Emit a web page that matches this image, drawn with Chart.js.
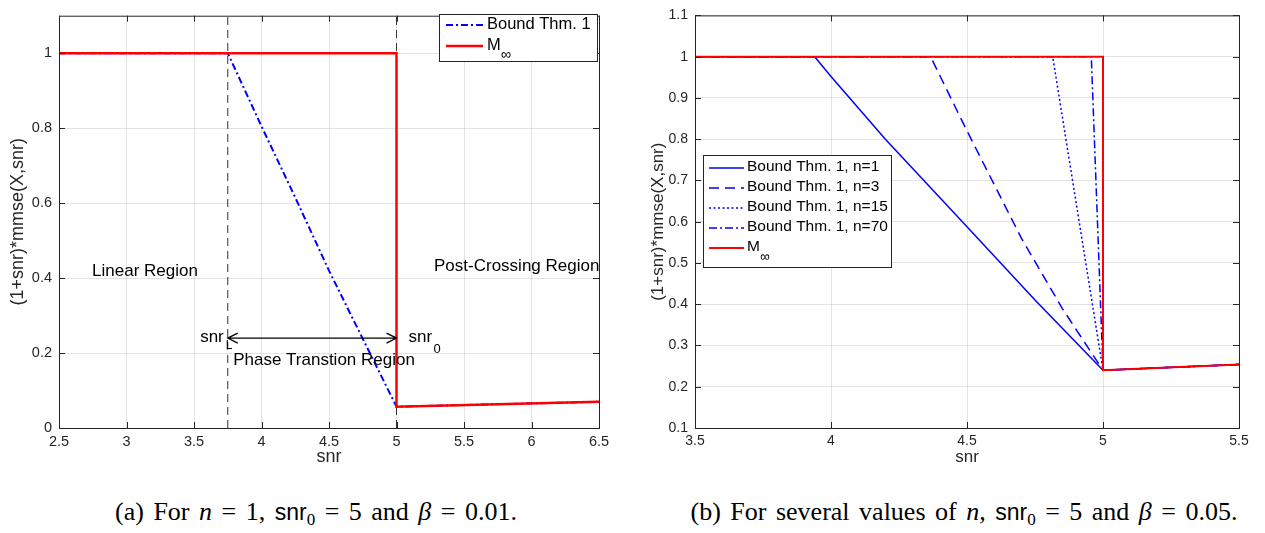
<!DOCTYPE html>
<html>
<head>
<meta charset="utf-8">
<script src="https://cdn.jsdelivr.net/npm/chart.js@4.4.1/dist/chart.umd.min.js"></script>
<style>
  html, body { margin: 0; padding: 0; background: #fff; }
  body { width: 1265px; height: 533px; position: relative; overflow: hidden; }
  .wrap { position: absolute; top: 0; height: 470px; }
  .cap { position: absolute; top: 494px; height: 36px; line-height: 36px; text-align: center;
         font-family: "Liberation Serif", "Times New Roman", serif; font-size: 26px; word-spacing: 3px;
         color: #000; white-space: nowrap; }
  .cap i { font-style: italic; }
  .cap .sf { font-family: "Liberation Sans", Arial, sans-serif; font-size: 23px; }
  .cap sub { font-size: 17px; vertical-align: -5px; line-height: 0; }
</style>
</head>
<body>
<div class="wrap" style="left:0;width:620px"><canvas id="chartA"></canvas></div>
<div class="wrap" style="left:640px;width:625px"><canvas id="chartB"></canvas></div>
<div class="cap" style="left:0;width:632px">(a) For <i>n</i> = 1, <span class="sf">snr</span><sub>0</sub> = 5 and <i>β</i> = 0.01.</div>
<div class="cap" style="left:664px;width:600px">(b) For several values of <i>n</i>, <span class="sf">snr</span><sub>0</sub> = 5 and <i>β</i> = 0.05.</div>
<script>
// ---- panel (a): n = 1, snr0 = 5, beta = 0.01
const xTicksA = [2.5, 3, 3.5, 4, 4.5, 5, 5.5, 6, 6.5];
const yTicksA = [0, 0.2, 0.4, 0.6, 0.8, 1];
const snrA_bound = [2.5, 3.75, 4.0, 4.25, 4.5, 4.75, 5.0, 6.5];
const valA_bound = [1, 1, 0.805, 0.615, 0.42, 0.238, 0.057, 0.070];
const snrA_minf = [2.5, 5, 5, 6.5];
const valA_minf = [1, 1, 0.057, 0.070];
const snrL = 3.75, snr0 = 5;
const arrowLevel = 0.24;

// ---- panel (b): several n, snr0 = 5, beta = 0.05
const xTicksB = [3.5, 4, 4.5, 5, 5.5];
const yTicksB = [0.1, 0.2, 0.3, 0.4, 0.5, 0.6, 0.7, 0.8, 0.9, 1, 1.1];
const snrB_n1 = [3.5, 3.94, 4.0, 4.2, 4.5, 4.75, 5.0, 5.5];
const valB_n1 = [1, 1, 0.952, 0.80, 0.588, 0.41, 0.24, 0.254];
const snrB_n3 = [3.5, 4.366, 4.5, 4.7, 4.85, 5.0, 5.5];
const valB_n3 = [1, 1, 0.82, 0.56, 0.39, 0.24, 0.254];
const snrB_n15 = [3.5, 4.815, 5.0, 5.5];
const valB_n15 = [1, 1, 0.24, 0.254];
const snrB_n70 = [3.5, 4.957, 5.0, 5.5];
const valB_n70 = [1, 1, 0.24, 0.254];
const snrB_minf = [3.5, 5, 5, 5.5];
const valB_minf = [1, 1, 0.24, 0.254];

const FONT = "'Liberation Sans', Arial, Helvetica, sans-serif";
const AX = '#262626';
const BLUE = '#0000ff', RED = '#ff0000';

const pts = (xs, ys) => xs.map((x, i) => ({x: x, y: ys[i]}));
const fmt = v => String(+v.toFixed(2));

function line(label, xs, ys, color, width, dash, order, sub) {
  return {label: label, labelSub: sub || '', data: pts(xs, ys), borderColor: color, borderWidth: width,
          borderDash: dash || [], pointRadius: 0, fill: false, tension: 0, order: order, borderCapStyle: 'butt'};
}

// box + inward ticks on four sides, matlab style
const frameTicks = {
  id: 'frameTicks',
  afterDatasetsDraw(chart) {
    const {ctx, chartArea: a, scales: {x, y}} = chart;
    const tl = 6;
    ctx.save();
    ctx.strokeStyle = AX;
    ctx.lineWidth = 1;
    ctx.beginPath();
    x.ticks.forEach(t => {
      const px = Math.round(x.getPixelForValue(t.value)) + 0.5;
      ctx.moveTo(px, a.bottom); ctx.lineTo(px, a.bottom - tl);
      ctx.moveTo(px, a.top); ctx.lineTo(px, a.top + tl);
    });
    y.ticks.forEach(t => {
      const py = Math.round(y.getPixelForValue(t.value)) + 0.5;
      ctx.moveTo(a.left, py); ctx.lineTo(a.left + tl, py);
      ctx.moveTo(a.right, py); ctx.lineTo(a.right - tl, py);
    });
    ctx.stroke();
    ctx.strokeRect(a.left + 0.5, a.top + 0.5, a.width, a.height);
    ctx.restore();
  }
};

// legend box inside the axes
const boxLegend = {
  id: 'boxLegend',
  afterDraw(chart, args, opts) {
    const ctx = chart.ctx;
    const items = chart.data.datasets.filter(d => d.label);
    ctx.save();
    ctx.fillStyle = '#fff';
    ctx.fillRect(opts.left, opts.top, opts.width, opts.height);
    ctx.strokeStyle = AX;
    ctx.lineWidth = 1;
    ctx.strokeRect(opts.left + 0.5, opts.top + 0.5, opts.width, opts.height);
    items.forEach((d, i) => {
      const yy = opts.firstRow + i * opts.rowGap;
      ctx.beginPath();
      ctx.strokeStyle = d.borderColor;
      ctx.lineWidth = d.borderWidth;
      ctx.setLineDash(d.borderDash);
      ctx.moveTo(opts.left + opts.lineFrom, yy);
      ctx.lineTo(opts.left + opts.lineTo, yy);
      ctx.stroke();
      ctx.setLineDash([]);
      ctx.fillStyle = '#000';
      ctx.font = opts.fontSize + 'px ' + FONT;
      ctx.textBaseline = 'middle';
      ctx.textAlign = 'left';
      const tx = opts.left + opts.textAt;
      ctx.fillText(d.label, tx, yy - 1);
      if (d.labelSub) {
        const w = ctx.measureText(d.label).width;
        ctx.font = (opts.fontSize - 2) + 'px ' + FONT;
        ctx.fillText(d.labelSub, tx + w, yy + 9);
      }
    });
    ctx.restore();
  }
};

// region labels, snr_L / snr_0 and the double arrow of panel (a)
const notesA = {
  id: 'notesA',
  afterDatasetsDraw(chart) {
    const {ctx, scales: {x, y}} = chart;
    ctx.save();
    ctx.fillStyle = '#000';
    ctx.textBaseline = 'middle';
    ctx.font = '17px ' + FONT;
    ctx.textAlign = 'left';
    ctx.fillText('Linear Region', x.getPixelForValue(2.745), y.getPixelForValue(0.419));
    ctx.fillText('Post-Crossing Region', x.getPixelForValue(5.278), y.getPixelForValue(0.432));
    ctx.fillText('Phase Transtion Region', x.getPixelForValue(3.79), y.getPixelForValue(0.18));
    // snr_L
    ctx.textAlign = 'right';
    const xl = x.getPixelForValue(snrL), x0 = x.getPixelForValue(snr0), ya = y.getPixelForValue(arrowLevel);
    ctx.fillText('snr', xl - 4, ya - 1);
    ctx.textAlign = 'left';
    ctx.font = '12px ' + FONT;
    ctx.fillText('L', xl - 2, ya + 8);
    // snr_0
    ctx.font = '17px ' + FONT;
    ctx.fillText('snr', x0 + 12, ya - 1);
    ctx.font = '13px ' + FONT;
    ctx.fillText('0', x0 + 37, ya + 11);
    // double arrow
    ctx.strokeStyle = '#000';
    ctx.lineWidth = 1.3;
    ctx.beginPath();
    ctx.moveTo(xl, ya); ctx.lineTo(x0, ya);
    ctx.moveTo(xl + 10, ya - 5); ctx.lineTo(xl, ya); ctx.lineTo(xl + 10, ya + 5);
    ctx.moveTo(x0 - 10, ya - 5); ctx.lineTo(x0, ya); ctx.lineTo(x0 - 10, ya + 5);
    ctx.stroke();
    ctx.restore();
  }
};

function axes(xMin, xMax, yMin, yMax, xTicks, yTicks, yWidth, tickSize, titleSize, yTitlePad) {
  return {
    x: {
      type: 'linear', min: xMin, max: xMax,
      afterBuildTicks: s => { s.ticks = xTicks.map(v => ({value: v})); },
      afterFit: s => { s.height = 42; },
      grid: {color: 'rgba(38,38,38,0.13)', drawTicks: false, lineWidth: 1},
      border: {display: false},
      ticks: {font: {family: FONT, size: tickSize}, color: AX, padding: 5, maxRotation: 0, callback: fmt},
      title: {display: true, text: 'snr', font: {family: FONT, size: titleSize}, color: AX, padding: {top: 0, bottom: 2}}
    },
    y: {
      type: 'linear', min: yMin, max: yMax,
      afterBuildTicks: s => { s.ticks = yTicks.map(v => ({value: v})); },
      afterFit: s => { s.width = yWidth; },
      grid: {color: 'rgba(38,38,38,0.13)', drawTicks: false, lineWidth: 1},
      border: {display: false},
      ticks: {font: {family: FONT, size: tickSize}, color: AX, padding: 7, callback: fmt},
      title: {display: true, text: '(1+snr)*mmse(X,snr)', font: {family: FONT, size: titleSize}, color: AX,
              padding: {top: yTitlePad, bottom: 0}}
    }
  };
}

new Chart(document.getElementById('chartA'), {
  type: 'line',
  data: {
    datasets: [
      line('Bound Thm. 1', snrA_bound, valA_bound, BLUE, 2, [7, 3, 2, 3], 1),
      line('M', snrA_minf, valA_minf, RED, 2.5, [], 0, '∞'),
      line('', [snrL, snrL], [0, 1.1], '#333', 1, [8, 5], 2),
      line('', [snr0, snr0], [0, 1.1], '#333', 1, [8, 5], 2)
    ]
  },
  options: {
    responsive: true, maintainAspectRatio: false, animation: false,
    layout: {padding: {top: 1, right: 21, left: 0, bottom: 0}},
    plugins: {
      legend: {display: false}, tooltip: {enabled: false},
      boxLegend: {left: 439, top: 14, width: 158, height: 47, firstRow: 25, rowGap: 21,
                  lineFrom: 7, lineTo: 44, textAt: 48, fontSize: 16.5}
    },
    scales: axes(2.5, 6.5, 0, 1.1, xTicksA, yTicksA, 59, 14.5, 18, 7)
  },
  plugins: [frameTicks, notesA, boxLegend]
});

new Chart(document.getElementById('chartB'), {
  type: 'line',
  data: {
    datasets: [
      line('Bound Thm. 1, n=1', snrB_n1, valB_n1, BLUE, 1.5, [], 2),
      line('Bound Thm. 1, n=3', snrB_n3, valB_n3, BLUE, 1.5, [10, 6], 2),
      line('Bound Thm. 1, n=15', snrB_n15, valB_n15, BLUE, 1.5, [2, 2.5], 2),
      line('Bound Thm. 1, n=70', snrB_n70, valB_n70, BLUE, 1.5, [8, 3, 2, 3], 2),
      line('M', snrB_minf, valB_minf, RED, 2, [], 0, '∞')
    ]
  },
  options: {
    responsive: true, maintainAspectRatio: false, animation: false,
    layout: {padding: {top: 14, right: 26, left: 0, bottom: 0}},
    plugins: {
      legend: {display: false}, tooltip: {enabled: false},
      boxLegend: {left: 63, top: 155, width: 188, height: 112, firstRow: 168, rowGap: 20,
                  lineFrom: 6, lineTo: 41, textAt: 44, fontSize: 15.5}
    },
    scales: axes(3.5, 5.5, 0.1, 1.1, xTicksB, yTicksB, 55, 14, 17, 8)
  },
  plugins: [frameTicks, boxLegend]
});
</script>
</body>
</html>
